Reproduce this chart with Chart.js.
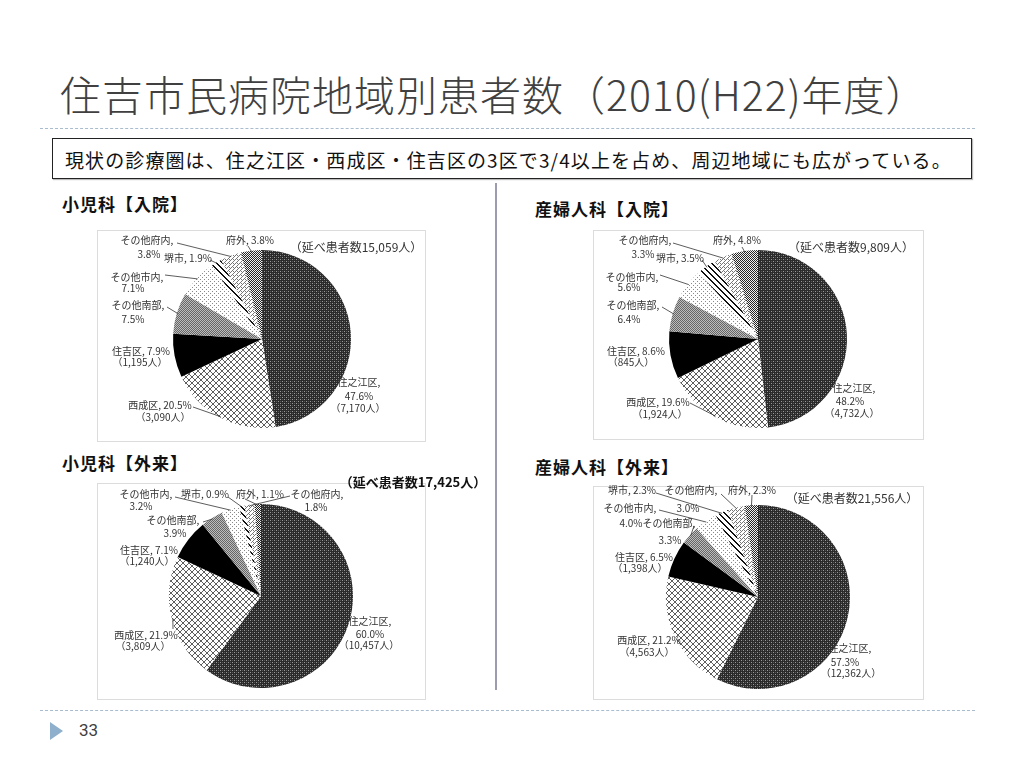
<!DOCTYPE html>
<html>
<head>
<meta charset="utf-8">
<script src="https://cdn.jsdelivr.net/npm/chart.js@4"></script>
<style>
  body { margin: 0; background: #fff; font-family: "Noto Sans CJK JP", sans-serif; }
  #slide { position: relative; width: 1024px; height: 768px; overflow: hidden; }
  .abs { position: absolute; }
  #title { left: 60px; top: 63px; font-size: 41px; font-weight: 300; color: #404040; white-space: nowrap; letter-spacing: 1px; }
  .dots { left: 40px; width: 935px; height: 0; border-top: 1px dashed #a9bccf; }
  #note { left: 52px; top: 138px; width: 918px; height: 39px; border: 1px solid #222; box-shadow: 1px 1px 1px #bbb; }
  #note span { position: absolute; left: 12px; top: 7px; font-size: 19px; color: #111; white-space: nowrap; letter-spacing: 1.1px; }
  .sec { font-size: 17px; font-weight: 700; color: #111; white-space: nowrap; letter-spacing: 1px; }
  .box { border: 1px solid #dcdcdc; }
  #vline { left: 495px; top: 183px; width: 2px; height: 507px; background: #9c9cae; }
  #arrow { left: 50px; top: 722px; width: 0; height: 0; border-top: 9px solid transparent; border-bottom: 9px solid transparent; border-left: 13px solid #8eb0cc; }
  #page { left: 79px; top: 720px; font-size: 17px; color: #404040; font-family: "Liberation Sans Narrow", "Roboto", sans-serif; }
  canvas { position: absolute; }
</style>
</head>
<body>
<div id="slide">
  <div id="title" class="abs">住吉市民病院地域別患者数（2010(H22)年度）</div>
  <div class="abs dots" style="top:128px"></div>
  <div id="note" class="abs"><span>現状の診療圏は、住之江区・西成区・住吉区の3区で3/4以上を占め、周辺地域にも広がっている。</span></div>
  <div class="abs sec" style="left:62px;top:191px">小児科【入院】</div>
  <div class="abs sec" style="left:535px;top:196px">産婦人科【入院】</div>
  <div class="abs sec" style="left:62px;top:450px">小児科【外来】</div>
  <div class="abs sec" style="left:535px;top:454px">産婦人科【外来】</div>
  <div id="vline" class="abs"></div>
  <div class="abs box" style="left:97px;top:230px;width:327px;height:210px"></div>
  <div class="abs box" style="left:593px;top:230px;width:329px;height:208px"></div>
  <div class="abs box" style="left:97px;top:483px;width:327px;height:215px"></div>
  <div class="abs box" style="left:593px;top:486px;width:329px;height:212px"></div>
  <canvas id="c1" width="430" height="240" style="left:60px;top:215px"></canvas>
  <canvas id="c2" width="420" height="240" style="left:555px;top:215px"></canvas>
  <canvas id="c3" width="440" height="240" style="left:60px;top:470px"></canvas>
  <canvas id="c4" width="420" height="240" style="left:555px;top:470px"></canvas>
  <div class="abs dots" style="top:710px"></div>
  <div id="arrow" class="abs"></div>
  <div id="page" class="abs">33</div>
</div>
<script>
const regions = ['住之江区', '西成区', '住吉区', 'その他南部', 'その他市内', '堺市', 'その他府内', '府外'];

const pedInPct = [47.6, 20.5, 7.9, 7.5, 7.1, 1.9, 3.8, 3.8];
const obInPct = [48.2, 19.6, 8.6, 6.4, 5.6, 3.5, 3.3, 4.8];
const pedOutPct = [60.0, 21.9, 7.1, 3.9, 3.2, 0.9, 1.8, 1.1];
const obOutPct = [57.3, 21.2, 6.5, 3.3, 4.0, 2.3, 3.0, 2.3];

// patient counts for 住之江区, 西成区, 住吉区
const pedInCount = [7170, 3090, 1195];
const obInCount = [4732, 1924, 845];
const pedOutCount = [10457, 3809, 1240];
const obOutCount = [12362, 4563, 1398];

const totals = [15059, 9809, 17425, 21556];

// small bitmap fills like the original monochrome chart
function makePattern(size, bg, draw) {
  const c = document.createElement('canvas');
  c.width = size; c.height = size;
  const g = c.getContext('2d');
  g.fillStyle = bg;
  g.fillRect(0, 0, size, size);
  draw(g);
  return g.createPattern(c, 'repeat');
}
function px(g, col, pts) {
  g.fillStyle = col;
  pts.forEach(p => g.fillRect(p[0], p[1], p[2] || 1, p[3] || 1));
}
const fills = [
  makePattern(4, '#2a2a2a', g => { px(g, '#9a9a9a', [[0, 0], [2, 2]]); px(g, '#555', [[2, 0], [0, 2]]); }),
  makePattern(6, '#ffffff', g => { const p = []; for (let i = 0; i < 6; i++) { p.push([i, i]); p.push([5 - i, i]); } px(g, '#5e5e5e', p); }),
  '#000000',
  makePattern(2, '#bdbdbd', g => px(g, '#666', [[0, 0], [1, 1]])),
  makePattern(4, '#ffffff', g => px(g, '#8a8a8a', [[0, 0], [2, 2]])),
  makePattern(6, '#ffffff', g => { const p = []; for (let i = 0; i < 6; i++) { p.push([i, i, 2, 1]); if (i === 5) p.push([0, 5]); } px(g, '#111', p); }),
  makePattern(4, '#ffffff', g => px(g, '#777', [[3, 0], [2, 1], [1, 2], [0, 3], [1, 0]])),
  makePattern(2, '#f0f0f0', g => px(g, '#262626', [[0, 0], [1, 1]]))
];

function labelText(kind, i, pct, counts) {
  const p = pct[i].toFixed(1) + '%';
  if (kind === 'n') return regions[i] + ',';
  if (kind === 'p') return p;
  if (kind === 'nc') return regions[i] + ', ' + p;
  return '（' + counts[i].toLocaleString('en-US') + '人）';
}

const labelPlugin = {
  id: 'sliceLabels',
  afterDatasetsDraw(chart) {
    const o = chart.options.plugins.sliceLabels;
    const meta = chart.getDatasetMeta(0);
    const ctx = chart.ctx;
    const cx = meta.data[0].x, cy = meta.data[0].y;
    ctx.save();
    ctx.textAlign = 'center';
    ctx.textBaseline = 'middle';
    ctx.strokeStyle = '#333';
    ctx.lineWidth = 0.8;
    o.layout.forEach((lab, i) => {
      const arc = meta.data[i];
      if (lab.lead) {
        const mid = (arc.startAngle + arc.endAngle) / 2;
        const R = arc.outerRadius - 1;
        ctx.beginPath();
        ctx.moveTo(cx + lab.lead[0], cy + lab.lead[1]);
        ctx.lineTo(arc.x + Math.cos(mid) * R, arc.y + Math.sin(mid) * R);
        ctx.stroke();
      }
      ctx.fillStyle = '#333';
      ctx.font = '10px "Noto Sans CJK JP"';
      lab.t.forEach(([kind, dx, dy]) => {
        ctx.fillText(labelText(kind, i, o.pct, o.counts), cx + dx, cy + dy);
      });
    });
    const t = o.total;
    ctx.fillStyle = t.bold ? '#111' : '#333';
    ctx.font = (t.bold ? 'bold 13px' : '12px') + ' "Noto Sans CJK JP"';
    ctx.fillText('（延べ患者数' + t.value.toLocaleString('en-US') + '人）', cx + t.dx, cy + t.dy);
    ctx.restore();
  }
};

function drawPie(id, left, top, w, h, cx, cy, r, pct, counts, layout, total) {
  new Chart(document.getElementById(id), {
    type: 'pie',
    data: {
      labels: regions,
      datasets: [{
        data: pct,
        backgroundColor: fills,
        borderWidth: 0,
        hoverOffset: 0
      }]
    },
    options: {
      responsive: false,
      animation: false,
      events: [],
      layout: {
        padding: { left: cx - left - r, right: left + w - cx - r, top: cy - top - r, bottom: top + h - cy - r }
      },
      plugins: {
        legend: { display: false },
        tooltip: { enabled: false },
        sliceLabels: { pct: pct, counts: counts, layout: layout, total: total }
      }
    },
    plugins: [labelPlugin]
  });
}

drawPie('c1', 60, 215, 430, 240, 262, 339, 89, pedInPct, pedInCount, [
  { t: [['n', 97, 43], ['p', 97, 57], ['c', 96, 69]] },
  { t: [['nc', -102, 66], ['c', -99, 78]], lead: [-69, 68] },
  { t: [['nc', -121, 12], ['c', -122, 23]] },
  { t: [['n', -124, -34], ['p', -129, -20]], lead: [-95, -32] },
  { t: [['n', -125, -62], ['p', -129, -51]], lead: [-97, -64] },
  { t: [['nc', -74, -81]], lead: [-52, -79] },
  { t: [['n', -115, -99], ['p', -113, -85]], lead: [-85, -96] },
  { t: [['nc', -12, -99]], lead: [-14, -93] }
], { value: totals[0], dx: 94, dy: -92 });

drawPie('c2', 555, 215, 420, 240, 758, 339, 89, obInPct, obInCount, [
  { t: [['n', 96, 49], ['p', 92, 62], ['c', 94, 74]] },
  { t: [['nc', -100, 63], ['c', -98, 75]], lead: [-68, 64] },
  { t: [['nc', -122, 12], ['c', -127, 23]] },
  { t: [['n', -125, -34], ['p', -129, -20]], lead: [-96, -32] },
  { t: [['n', -126, -62], ['p', -129, -52]], lead: [-98, -64] },
  { t: [['nc', -78, -81]], lead: [-56, -79] },
  { t: [['n', -113, -99], ['p', -115, -85]], lead: [-85, -96] },
  { t: [['nc', -21, -99]], lead: [-16, -92] }
], { value: totals[1], dx: 93, dy: -92 });

drawPie('c3', 60, 470, 440, 240, 261, 596, 92, pedOutPct, pedOutCount, [
  { t: [['n', 109, 25], ['p', 109, 38], ['c', 108, 49]] },
  { t: [['nc', -115, 39], ['c', -118, 50]], lead: [-88, 33] },
  { t: [['nc', -112, -46], ['c', -114, -35]] },
  { t: [['n', -88, -76], ['p', -86, -63]], lead: [-58, -74] },
  { t: [['n', -115, -102], ['p', -120, -90]], lead: [-86, -99] },
  { t: [['nc', -56, -102]], lead: [-33, -99] },
  { t: [['n', 56, -102], ['p', 55, -89]], lead: [29, -100] },
  { t: [['nc', -1, -102]], lead: [-16, -97] }
], { value: totals[2], dx: 152, dy: -114, bold: true });

drawPie('c4', 555, 470, 420, 240, 758, 597, 92, obOutPct, obOutCount, [
  { t: [['n', 92, 51], ['p', 87, 65], ['c', 93, 76]] },
  { t: [['nc', -109, 43], ['c', -111, 55]] },
  { t: [['nc', -114, -40], ['c', -118, -29]] },
  { t: [['n', -89, -74], ['p', -88, -57]], lead: [-64, -71] },
  { t: [['n', -128, -89], ['p', -127, -74]], lead: [-99, -87] },
  { t: [['nc', -126, -107]], lead: [-102, -104] },
  { t: [['n', -67, -107], ['p', -70, -89]], lead: [-37, -103] },
  { t: [['nc', -6, -107]], lead: [-6, -102] }
], { value: totals[3], dx: 94, dy: -99 });
</script>
</body>
</html>
